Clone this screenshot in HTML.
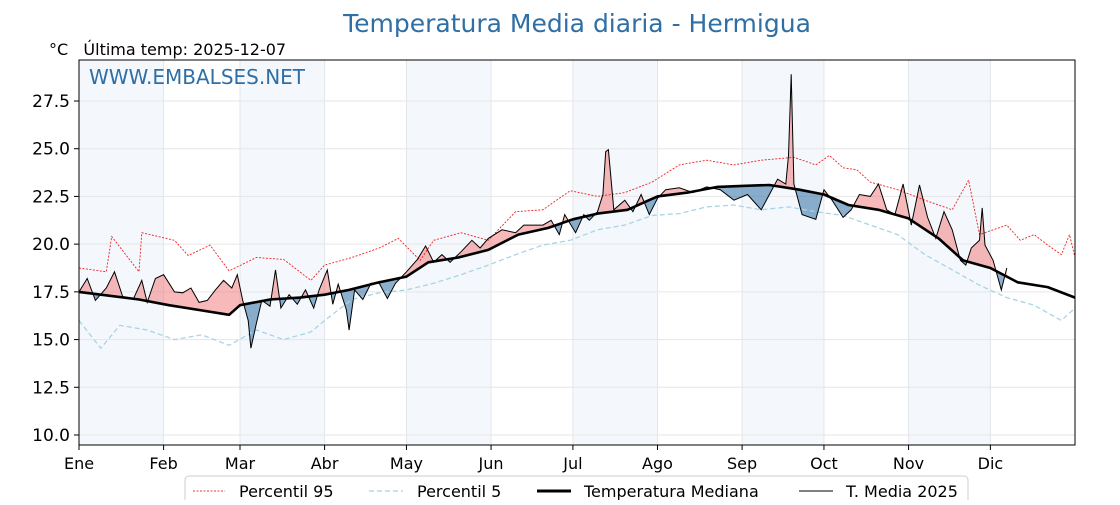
<!DOCTYPE html>
<html><head><meta charset="utf-8"><style>
body{margin:0;background:#fff;}
svg text{font-family:"DejaVu Sans","Liberation Sans",sans-serif;white-space:pre;}
</style></head><body>
<svg id="chart" width="1120" height="500" xmlns="http://www.w3.org/2000/svg">
<text x="577" y="32" text-anchor="middle" font-size="25" fill="#2f6fa5">Temperatura Media diaria - Hermigua</text>
<text x="49" y="55" font-size="16" fill="#000">°C   Última temp: 2025-12-07</text>
<g id="bands"></g>
<g id="grid"></g>
<text x="89" y="84" font-size="20" fill="#2f6fa5">WWW.EMBALSES.NET</text>
<g id="marks"></g>
<rect x="79" y="60" width="996" height="385" fill="none" stroke="#000" stroke-width="1"/>
<g id="axes"></g>
<g>
<rect x="185" y="476" width="783" height="30" rx="4" fill="#fff" stroke="#ccc"/>
<g><line x1="193" y1="491" x2="225" y2="491" stroke="#e8333a" stroke-width="1" stroke-dasharray="2,1.5"/><text x="239" y="497" font-size="16">Percentil 95</text></g>
<g><line x1="369" y1="491" x2="403" y2="491" stroke="#a8d4e4" stroke-width="1.3" stroke-dasharray="5,3"/><text x="417" y="497" font-size="16">Percentil 5</text></g>
<g><line x1="537" y1="491" x2="571" y2="491" stroke="#000" stroke-width="3"/><text x="584" y="497" font-size="16">Temperatura Mediana</text></g>
<g><line x1="799" y1="491" x2="833" y2="491" stroke="#000" stroke-width="1"/><text x="846" y="497" font-size="16">T. Media 2025</text></g>
</g>
</svg>
<script>
const monthLabels=["Ene","Feb","Mar","Abr","May","Jun","Jul","Ago","Sep","Oct","Nov","Dic"];
const monthStarts=[0,31,59,90,120,151,181,212,243,273,304,334];
const yTicks=[10,12.5,15,17.5,20,22.5,25,27.5];
const medDays=[0,22,33,44,55,59,70,81,90,99,110,120,128,139,150,161,172,181,190,201,212,223,234,243,253,264,273,282,293,304,315,324,334,344,355,365];
const medVals=[17.5,17.1,16.8,16.55,16.3,16.8,17.1,17.2,17.35,17.6,18.0,18.3,19.05,19.3,19.7,20.5,20.85,21.3,21.6,21.8,22.5,22.7,23.0,23.05,23.1,22.85,22.6,22.05,21.8,21.35,20.3,19.15,18.75,18.0,17.75,17.2];
const p95Days=[0,10,12,22,23,35,40,48,55,65,75,85,90,100,110,117,125,130,140,150,160,170,180,190,200,210,220,230,240,250,262,270,275,280,285,290,300,310,320,326,330,340,345,350,355,360,363,365];
const p95Vals=[18.75,18.55,20.4,18.55,20.6,20.2,19.4,19.95,18.6,19.3,19.2,18.1,18.9,19.3,19.8,20.3,19.15,20.2,20.6,20.2,21.7,21.8,22.8,22.5,22.7,23.25,24.15,24.4,24.15,24.4,24.55,24.15,24.65,24.0,23.9,23.25,22.85,22.3,21.8,23.35,20.5,21.0,20.2,20.5,19.95,19.45,20.5,19.3];
const p5Days=[0,8,15,25,35,45,55,65,75,85,90,100,110,120,130,140,150,160,170,180,190,200,210,220,230,240,250,260,270,280,290,300,310,320,330,340,350,360,365];
const p5Vals=[16.0,14.55,15.75,15.5,15.0,15.25,14.7,15.5,15.0,15.4,16.0,17.1,17.45,17.6,17.95,18.4,18.9,19.45,19.95,20.2,20.75,21.0,21.5,21.6,21.95,22.05,21.8,21.95,21.7,21.5,21.0,20.5,19.45,18.65,17.85,17.2,16.8,16.0,16.65];
const t25Days=[0,3,6,10,13,16,20,23,25,28,31,35,38,41,44,47,50,53,56,58,60,62,63,65,67,70,72,74,77,80,83,86,88,91,93,95,98,99,101,104,107,110,113,116,120,124,127,130,133,136,140,144,147,150,155,160,163,167,170,173,176,178,182,185,187,190,192,193,194,196,200,203,206,209,212,215,220,225,230,235,240,245,250,253,256,259,260,261,262,265,270,273,276,280,283,286,290,293,296,299,302,305,308,311,314,317,320,323,325,327,330,331,332,335,338,340];
const t25Vals=[17.5,18.2,17.05,17.7,18.55,17.25,17.15,18.1,16.95,18.2,18.4,17.5,17.45,17.7,16.95,17.05,17.6,18.1,17.7,18.4,17.05,16.0,14.55,15.85,17.05,16.75,18.65,16.65,17.35,16.85,17.6,16.65,17.6,18.65,16.85,17.9,16.55,15.5,17.6,17.1,17.95,17.95,17.15,17.95,18.55,19.2,19.9,19.05,19.45,19.05,19.6,20.2,19.8,20.3,20.75,20.6,21.0,21.0,21.0,21.25,20.5,21.55,20.6,21.55,21.25,21.7,22.6,24.85,24.95,21.8,22.3,21.7,22.6,21.55,22.4,22.85,22.95,22.7,23.0,22.85,22.3,22.6,21.8,22.6,23.4,23.15,24.65,28.9,23.15,21.55,21.3,22.85,22.3,21.4,21.8,22.6,22.5,23.15,21.8,21.55,23.15,21.0,23.1,21.4,20.3,21.7,20.75,19.15,18.9,19.8,20.2,21.9,19.95,19.15,17.6,18.75];

const X=d=>79+d*(996/365);
const Y=v=>435-(v-10)*19.086;
const NS="http://www.w3.org/2000/svg";
function interp(ds,vs,d){for(let i=1;i<ds.length;i++){if(d<=ds[i]){const t=(d-ds[i-1])/(ds[i]-ds[i-1]);return vs[i-1]+t*(vs[i]-vs[i-1]);}}return vs[vs.length-1];}
function mk(tag,attrs,parent){const e=document.createElementNS(NS,tag);for(const k in attrs)e.setAttribute(k,attrs[k]);parent.appendChild(e);return e;}
const bands=document.getElementById('bands'),grid=document.getElementById('grid'),marks=document.getElementById('marks'),axes=document.getElementById('axes');
const ends=monthStarts.concat([365]);
for(let i=0;i<12;i+=2){
 const r=mk('rect',{x:X(ends[i]),y:60,width:X(ends[i+1])-X(ends[i]),height:385,fill:'#f4f8fc'},bands);
 
 
}
monthStarts.forEach((d,i)=>{
 const l=mk('line',{x1:X(d),x2:X(d),y1:60,y2:445,stroke:'#e2e6ea','stroke-width':1},grid);
 
 
 const t=mk('text',{x:X(d),y:469,'text-anchor':'middle','font-size':16},axes);t.textContent=monthLabels[i];
 
 
 mk('line',{x1:X(d),x2:X(d),y1:445,y2:450,stroke:'#000'},axes);
});
yTicks.forEach(v=>{
 const l=mk('line',{x1:79,x2:1075,y1:Y(v),y2:Y(v),stroke:'#e6e6e6','stroke-width':1},grid);
 
 
 const t=mk('text',{x:70,y:Y(v)+6,'text-anchor':'end','font-size':17},axes);t.textContent=v.toFixed(1);
 
 
 mk('line',{x1:74,x2:79,y1:Y(v),y2:Y(v),stroke:'#000'},axes);
});
const pts=(ds,vs)=>ds.map((d,i)=>X(d).toFixed(1)+','+Y(vs[i]).toFixed(1)).join(' ');
const lastDay=t25Days[t25Days.length-1];
const medBack=[];for(let d=lastDay;d>=0;d-=1)medBack.push(X(d).toFixed(1)+','+Y(interp(medDays,medVals,d)).toFixed(1));
const poly=pts(t25Days,t25Vals)+' '+medBack.join(' ');
const defs=mk('defs',{},marks);
const medFwd=[];for(let d=0;d<=365;d++)medFwd.push(X(d).toFixed(1)+','+Y(interp(medDays,medVals,d)).toFixed(1));
const cA=mk('clipPath',{id:'above'},defs);mk('polygon',{points:'79,0 '+medFwd.join(' ')+' 1076,0'},cA);
const cB=mk('clipPath',{id:'below'},defs);mk('polygon',{points:'79,500 '+medFwd.join(' ')+' 1076,500'},cB);
const fa=mk('polygon',{points:poly,fill:'#f08080','fill-opacity':0.55,'clip-path':'url(#above)'},marks);


const fb=mk('polygon',{points:poly,fill:'#2e6da4','fill-opacity':0.55,'clip-path':'url(#below)'},marks);


const l95=mk('polyline',{points:pts(p95Days,p95Vals),fill:'none',stroke:'#f02020','stroke-width':0.9,'stroke-dasharray':'2,1.5'},marks);


const l5=mk('polyline',{points:pts(p5Days,p5Vals),fill:'none',stroke:'#a8d4e4','stroke-width':1.3,'stroke-dasharray':'5,3'},marks);


const lm=mk('polyline',{points:pts(medDays,medVals),fill:'none',stroke:'#000','stroke-width':2.6,'stroke-linejoin':'round'},marks);


const lt=mk('polyline',{points:pts(t25Days,t25Vals),fill:'none',stroke:'#000','stroke-width':1},marks);


</script>
</body></html>
